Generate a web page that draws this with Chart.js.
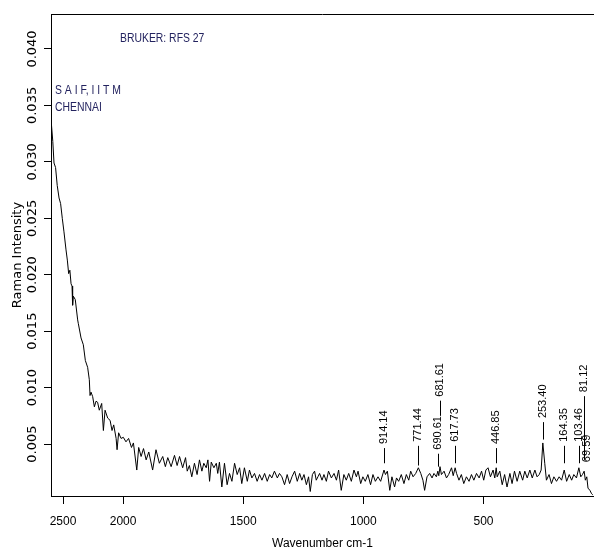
<!DOCTYPE html>
<html><head><meta charset="utf-8">
<script src="https://cdn.jsdelivr.net/npm/chart.js@4.4.1/dist/chart.umd.min.js"></script>
<style>html,body{margin:0;padding:0;background:#fff}canvas{display:block}</style>
</head><body>
<canvas id="c" width="594" height="551"></canvas>
<script>
// ---- data ----
const wavenumbers = [2597,2585,2575,2562,2548,2533,2520,2506,2492,2475,2464,2453,2443,2433,2425,2420,2414,2398,2378,2373,2350,2331,2314,2295,2281,2275,2267,2253,2239,2225,2212,2198,2178,2164,2150,2128,2108,2092,2078,2058,2050,2037,2017,
1999,1988,1977,1965,1957,1943,1935,1925,1915,1904,1893,1877,1863,1849,1835,1824,1814,1800,1786,1775,1765,1752,1740,1733,1724,1714,1703,1692,1682,1672,1664,1654,1647,1640,1633,1622,1612,1606,1599,1589,1578,1567,1557,1547,1536,1525,1515,1506,
1495,1483,1474,1464,1453,1442,1432,1422,1411,1400,1390,1381,1370,1358,1349,1339,1328,1317,1307,1297,1286,1275,1265,1256,1247,1237,1228,1221,1212,1203,1196,1189,1182,1172,1164,1154,1145,1133,1122,1112,1103,1092,1081,1071,1061,1050,1039,1029,1022,1011,1002,
992,981,970,960,950,939,928,914,908,900,890,881,870,862,853,842,831,821,811,803,793,782,771,761,752,745,735,724,714,706,696,690,686,681,675,664,654,645,633,626,618,612,602,592,582,571,560,550,540,529,518,508,
499,490,481,471,460,453,447,443,432,422,412,402,390,381,371,360,349,337,328,318,307,297,286,277,268,260,253,245,238,227,217,207,196,185,175,164,154,143,133,124,113,103,95,88,81,76,70,65,57,50,45];
const intensity = [0.0334,0.0318,0.0299,0.0295,0.0279,0.0268,0.0263,0.0250,0.0238,0.0222,0.0213,0.0201,0.0204,0.0192,0.0190,0.0173,0.0181,0.0178,0.0160,0.0157,0.0144,0.0138,0.0124,0.0118,0.0107,0.0093,0.0096,0.0092,0.0083,0.0088,0.0087,0.0080,0.0086,0.0062,0.0080,0.0073,0.0071,0.0062,0.0067,0.0055,0.0045,0.0060,0.0055,
0.0056,0.0052,0.0055,0.0047,0.0051,0.0027,0.0047,0.0039,0.0046,0.0036,0.0043,0.0027,0.0045,0.0033,0.0039,0.0030,0.0038,0.0030,0.0040,0.0031,0.0039,0.0029,0.0038,0.0026,0.0031,0.0021,0.0033,0.0023,0.0036,0.0026,0.0033,0.0029,0.0036,0.0017,0.0034,0.0029,0.0033,0.0024,0.0034,0.0012,0.0033,0.0014,0.0024,0.0017,0.0033,0.0023,0.0029,0.0015,
0.0029,0.0017,0.0027,0.0020,0.0024,0.0017,0.0023,0.0018,0.0024,0.0017,0.0023,0.0020,0.0026,0.0020,0.0024,0.0021,0.0014,0.0023,0.0015,0.0021,0.0026,0.0017,0.0024,0.0018,0.0023,0.0014,0.0021,0.0008,0.0023,0.0026,0.0018,0.0021,0.0024,0.0018,0.0023,0.0017,0.0026,0.0020,0.0024,0.0018,0.0027,0.0009,0.0023,0.0018,0.0024,0.0017,0.0027,0.0021,0.0026,0.0015,0.0021,
0.0017,0.0023,0.0014,0.0023,0.0017,0.0021,0.0017,0.0027,0.0023,0.0026,0.0009,0.0021,0.0012,0.0020,0.0017,0.0023,0.0015,0.0023,0.0018,0.0026,0.0021,0.0024,0.0029,0.0024,0.0018,0.0009,0.0021,0.0024,0.0020,0.0024,0.0021,0.0026,0.0022,0.0030,0.0023,0.0026,0.0020,0.0023,0.0029,0.0022,0.0029,0.0024,0.0018,0.0023,0.0015,0.0021,0.0017,0.0023,0.0018,0.0024,0.0020,0.0026,
0.0018,0.0027,0.0029,0.0021,0.0027,0.0020,0.0029,0.0021,0.0026,0.0014,0.0023,0.0012,0.0024,0.0015,0.0026,0.0017,0.0026,0.0018,0.0026,0.0020,0.0027,0.0020,0.0027,0.0021,0.0023,0.0027,0.0051,0.0033,0.0018,0.0023,0.0015,0.0021,0.0017,0.0021,0.0018,0.0027,0.0017,0.0023,0.0018,0.0023,0.0020,0.0029,0.0021,0.0023,0.0026,0.0018,0.0021,0.0011,0.0009,0.0006,0.0005];

const xTickLabels = [2500, 2000, 1500, 1000, 500];
const yTickValues = [0.005, 0.010, 0.015, 0.020, 0.025, 0.030, 0.035, 0.040];

const peakPositions = [914.14, 771.44, 690.61, 681.61, 617.73, 446.85, 253.40, 164.35, 103.46, 81.12, 69.59];
// annotation placement (intensity units): where each label text starts and where its marker line ends
const peakLabelBase = [0.0050, 0.0052, 0.0045, 0.0092, 0.0052, 0.0050, 0.0073, 0.0052, 0.0052, 0.0096, 0.0034];
const peakLineEnd   = [0.0033, 0.0031, 0.0030, 0.0075, 0.0033, 0.0033, 0.0054, 0.0033, 0.0033, 0.0036, 0.0034];

const xAxisTitle = 'Wavenumber cm-1';
const yAxisTitle = 'Raman Intensity';
const noteTexts = ['BRUKER: RFS 27', 'S A I F, I I T M', 'CHENNAI'];

// The instrument display draws the region above 2000 cm-1 at half scale.
function toAxis(nu) { return nu > 2000 ? 2000 + (nu - 2000) / 2 : nu; }
function fromAxis(u) { return u > 2000 ? 2000 + (u - 2000) * 2 : u; }

const SANS = "'Liberation Sans', Arial, Helvetica, sans-serif";
const WIDE = "'DejaVu Sans', Verdana, sans-serif";

const annotate = {
  id: 'annotate',
  afterDraw(chart) {
    const { ctx, chartArea: a, scales: { x, y } } = chart;
    ctx.save();
    ctx.strokeStyle = '#000';
    ctx.lineWidth = 1;
    const ty = Math.round(a.top) + 0.5;
    ctx.beginPath(); ctx.moveTo(Math.round(a.left), ty); ctx.lineTo(chart.width, ty); ctx.stroke();

    ctx.fillStyle = '#000';
    ctx.font = '11px ' + SANS;
    ctx.textAlign = 'left';
    ctx.textBaseline = 'middle';
    peakPositions.forEach((nu, i) => {
      const px = x.getPixelForValue(toAxis(nu));
      const py = y.getPixelForValue(peakLabelBase[i]);
      ctx.save();
      ctx.translate(px, py);
      ctx.rotate(-Math.PI / 2);
      ctx.fillText(nu.toFixed(2), 0, 0);
      ctx.restore();
      const ly = y.getPixelForValue(peakLineEnd[i]);
      if (ly > py + 6) {
        const lx = Math.round(px) + 0.5;
        ctx.beginPath(); ctx.moveTo(lx, py + 4); ctx.lineTo(lx, ly); ctx.stroke();
      }
    });

    // condensed navy notes
    ctx.fillStyle = '#23235f';
    ctx.font = '13px ' + SANS;
    const notePos = [[120, 38], [55, 90], [55, 107]];
    noteTexts.forEach((t, i) => {
      ctx.save();
      ctx.translate(notePos[i][0], notePos[i][1]);
      ctx.scale(0.8, 1);
      ctx.fillText(t, 0, 0);
      ctx.restore();
    });
    ctx.restore();
  }
};

new Chart(document.getElementById('c'), {
  type: 'line',
  data: {
    datasets: [{
      data: wavenumbers.map((nu, i) => ({ x: toAxis(nu), y: intensity[i] })),
      borderColor: '#000',
      borderWidth: 1,
      pointRadius: 0,
      tension: 0,
      fill: false
    }]
  },
  options: {
    responsive: false,
    animation: false,
    devicePixelRatio: 1,
    layout: { padding: { top: 14, right: 0, bottom: 0, left: 0 } },
    plugins: { legend: { display: false }, tooltip: { enabled: false } },
    scales: {
      x: {
        type: 'linear',
        reverse: true,
        min: 40,
        max: 2300,
        afterBuildTicks: s => { s.ticks = xTickLabels.map(v => ({ value: toAxis(v) })); },
        afterFit: s => { s.height = 55; },
        ticks: {
          autoSkip: false, maxRotation: 0, padding: 10, color: '#000',
          font: { family: SANS, size: 12 },
          callback: v => String(Math.round(fromAxis(v)))
        },
        grid: { drawOnChartArea: false, tickLength: 8, color: '#000', tickColor: '#000' },
        border: { display: true, color: '#000', width: 1 },
        title: { display: true, text: xAxisTitle, color: '#000', font: { family: SANS, size: 12 }, padding: { top: 0, bottom: 0 } }
      },
      y: {
        min: 0.0004,
        max: 0.0431,
        afterBuildTicks: s => { s.ticks = yTickValues.map(v => ({ value: v })); },
        afterFit: s => { s.width = 51; },
        ticks: {
          autoSkip: false, minRotation: 90, maxRotation: 90, crossAlign: 'center', padding: -7.6,
          color: '#000', font: { family: WIDE, size: 13 },
          callback: v => v.toFixed(3)
        },
        grid: { drawOnChartArea: false, tickLength: 7, color: '#000', tickColor: '#000' },
        border: { display: true, color: '#000', width: 1 },
        title: { display: true, text: yAxisTitle, color: '#000', font: { family: WIDE, size: 13 }, padding: { top: 10, bottom: 0 } }
      }
    }
  },
  plugins: [annotate]
});
</script>
</body></html>
